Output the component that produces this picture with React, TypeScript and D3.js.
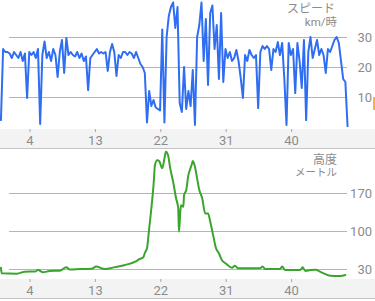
import React from "react";
import * as d3 from "d3";

// Speed samples every 0.3 km, km/h
const speedStep = 0.3;
const speedValues = [
  2.3, 26, 25, 25, 24.5, 23, 25, 24, 23, 25, 22, 24.5, 9.7, 25, 24, 25, 23, 26, 1, 24,
  28.5, 23, 25, 22, 26, 24, 16.7, 25, 29, 18, 29.7, 24, 25, 24, 23.5, 25, 23, 24.5, 22, 23.5,
  12.3, 23, 24, 25, 26, 24.5, 25, 24.5, 25, 18.7, 25, 27.7, 25, 17, 24, 23, 25, 25, 24, 25,
  24.5, 23, 25, 23, 21, 20, 18, 1.5, 12, 7, 9, 6.5, 6, 5.5, 32.5, 1.5, 30, 37, 40, 41.5,
  33, 40, 8, 5, 20, 6, 12, 7, 19, 0.7, 30, 34, 41.5, 22, 36, 14, 38, 40.5, 26, 34,
  16, 38, 15, 26, 23, 25, 22, 23, 25.7, 22, 16.3, 9.7, 24, 22, 25.7, 24, 23, 24, 6.3, 25,
  27, 26, 27, 26, 19, 26, 25, 28.3, 24, 28, 16, 0.7, 28, 24, 26, 11.3, 28, 22, 13, 29,
  2.3, 25, 30, 23, 26, 29, 24, 26, 24, 18, 26, 25, 27, 29, 30, 28, 22, 16, 15, 0.3,
];

// Altitude profile: distance (km) and elevation (m)
const altKm = [
  0, 0.1, 2.2, 3.3, 4.7, 5.1, 5.8, 6.7, 8.1, 9.0, 9.5, 10.9, 12.5, 13.1, 14.3, 15.7, 17.1, 18.5, 19.1, 19.6,
  19.8, 20.1, 20.4, 20.7, 21.0, 21.2, 21.5, 21.8, 22.2, 22.5, 22.7, 23.0, 23.3, 23.7, 24.1, 24.4, 24.5, 24.7, 24.8, 25.1,
  25.2, 25.5, 25.8, 26.0, 26.3, 26.4, 26.7, 27.0, 27.3, 27.7, 28.1, 28.5, 28.8, 29.2, 29.6, 30.0, 30.4, 30.9, 31.3, 31.8,
  32.2, 32.6, 34.3, 35.7, 36.0, 36.4, 38.4, 38.7, 39.1, 41.2, 41.5, 41.9, 42.6, 43.4, 43.7, 44.4, 45.3, 46.7, 47.4,
];
const altM = [
  33, 22.6, 22, 25.6, 26, 28.7, 24.5, 27, 27.5, 33.7, 29.5, 30.5, 31, 35, 30.5, 34, 38, 44, 49, 52,
  60, 68.7, 105, 142, 185, 222, 231, 229, 216, 234, 246.6, 240, 216, 191, 161, 142, 99, 139, 148, 145,
  167, 176, 204, 213, 225, 229.5, 219, 197, 176, 161, 133, 133, 118, 93, 68.7, 59.5, 47, 41, 36.6, 33,
  36.6, 32, 32, 32, 35, 30.5, 30.5, 35, 28.7, 28.7, 33.7, 27, 28.5, 29, 27, 22.6, 18, 17.6, 19.5,
];

const xTicks = [4, 13, 22, 31, 40];
const speedTicks = [10, 20, 30];
const altTicks = [30, 100, 170];

const W = 375;
const H = 301;
const font = "Roboto, 'Noto Sans CJK JP', sans-serif";
const gray = "#8c8c8c";

export default function App() {
  const x = d3.scaleLinear().domain([4, 40]).range([30, 291.6]);
  const ySpeed = d3.scaleLinear().domain([0, 30]).range([127, 37]);
  const yAlt = d3.scaleLinear().domain([30, 170]).range([269.3, 193.3]);

  const speedData = speedValues.map((v, i) => [i * speedStep, v] as [number, number]);
  const altData = altKm.map((k, i) => [k, altM[i]] as [number, number]);

  const speedLine = d3
    .line<[number, number]>()
    .x((d) => x(d[0]))
    .y((d) => ySpeed(d[1]));
  const altLine = d3
    .line<[number, number]>()
    .x((d) => x(d[0]))
    .y((d) => yAlt(d[1]))
    .curve(d3.curveMonotoneX);

  const gridX0 = 9;
  const gridX1 = 347;

  const axisBand = (top: number, bottom: number) => (
    <g>
      <rect x={0} y={top} width={W} height={bottom - top} fill="#f3f3f3" />
      <line x1={0} x2={W} y1={bottom + 0.5} y2={bottom + 0.5} stroke="#c4c4c4" strokeWidth={1} />
      {xTicks.map((t) => (
        <g key={t}>
          <line x1={x(t)} x2={x(t)} y1={top} y2={top + 3} stroke="#a8a8a8" strokeWidth={1} />
          <text
            x={x(t)}
            y={top + 11.5}
            textAnchor="middle"
            dominantBaseline="central"
            fontSize={13}
            fill={gray}
            fontFamily={font}
          >
            {t}
          </text>
        </g>
      ))}
    </g>
  );

  return (
    <div style={{ position: "fixed", left: 0, top: 0 }}>
      <svg width={W} height={H} style={{ display: "block", background: "#fff" }}>
        {/* Speed panel */}
        {speedTicks.map((t) => (
          <g key={t}>
            <line
              x1={gridX0}
              x2={gridX1}
              y1={Math.round(ySpeed(t)) + 0.5}
              y2={Math.round(ySpeed(t)) + 0.5}
              stroke="#b4b4b4"
              strokeWidth={1}
            />
            <text
              x={372}
              y={ySpeed(t)}
              textAnchor="end"
              dominantBaseline="central"
              fontSize={13}
              fill={gray}
              fontFamily={font}
            >
              {t}
            </text>
          </g>
        ))}
        <text x={335} y={8.5} textAnchor="end" dominantBaseline="central" fontSize={12} fill={gray} fontFamily={font}>
          スピード
        </text>
        <text x={337} y={22} textAnchor="end" dominantBaseline="central" fontSize={11.5} fill={gray} fontFamily={font}>
          km/時
        </text>
        <path
          d={speedLine(speedData) || ""}
          fill="none"
          stroke="#2f6ef3"
          strokeWidth={2}
          strokeLinejoin="round"
          strokeLinecap="round"
        />
        <rect x={373} y={97} width={2} height={13} fill="#f7b234" />
        {axisBand(129, 148)}

        {/* Altitude panel */}
        {altTicks.map((t) => (
          <g key={t}>
            <line
              x1={gridX0}
              x2={gridX1}
              y1={Math.round(yAlt(t)) + 0.5}
              y2={Math.round(yAlt(t)) + 0.5}
              stroke="#b4b4b4"
              strokeWidth={1}
            />
            <text
              x={372}
              y={yAlt(t)}
              textAnchor="end"
              dominantBaseline="central"
              fontSize={13}
              fill={gray}
              fontFamily={font}
            >
              {t}
            </text>
          </g>
        ))}
        <text x={337} y={159.5} textAnchor="end" dominantBaseline="central" fontSize={12} fill={gray} fontFamily={font}>
          高度
        </text>
        <text x={337} y={172.5} textAnchor="end" dominantBaseline="central" fontSize={10.5} fill={gray} fontFamily={font}>
          メートル
        </text>
        <path
          d={altLine(altData) || ""}
          fill="none"
          stroke="#3aa52c"
          strokeWidth={2}
          strokeLinejoin="round"
          strokeLinecap="round"
        />
        {axisBand(279, 298)}
      </svg>
    </div>
  );
}
